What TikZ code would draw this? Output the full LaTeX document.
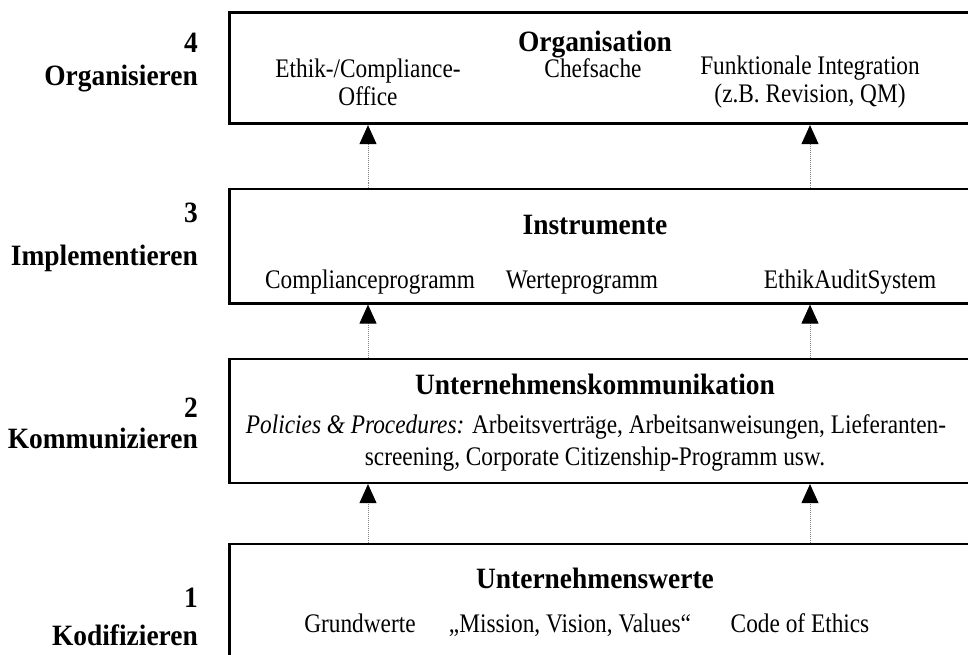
\documentclass[tikz,border=0pt]{standalone}
\usepackage{fontspec}
\setmainfont{Liberation Serif}
\newfontfamily\regf[FakeStretch=0.87]{Liberation Serif}
\newfontfamily\boldf[FakeStretch=0.93]{Liberation Serif}
\usetikzlibrary{arrows.meta}
\begin{document}
\begin{tikzpicture}[x=1pt,y=-1pt,
  box/.style={draw, line width=2.6pt, rectangle, inner sep=0pt, anchor=north west, minimum width=747pt},
  ttl/.style={font=\boldf\fontsize{29.5}{34}\selectfont\bfseries, anchor=base, inner sep=0pt},
  txt/.style={font=\regf\fontsize{26.8}{28}\selectfont, anchor=base, inner sep=0pt},
  txtc/.style={font=\regf\fontsize{26.8}{28}\selectfont, align=center, inner sep=0pt},
  lvl/.style={font=\boldf\fontsize{29.5}{34}\selectfont\bfseries, anchor=base east, inner sep=0pt},
  conn/.style={draw=gray, line width=0.9pt, dash pattern=on 1pt off 1pt,
    -{Triangle[width=17pt,length=19pt,fill=black,color=black]}}
]
\useasboundingbox (0,0) rectangle (968,655);

% boxes
\node[box, minimum height=111.5pt] (b4) at (228,11) {};
\node[box, minimum height=114.5pt] (b3) at (228,187.5) {};
\node[box, minimum height=124pt]   (b2) at (228,357.5) {};
\node[box, minimum height=130pt]   (b1) at (228,542.5) {};

% arrow columns
\coordinate (cl) at (368,0);
\coordinate (cr) at (810,0);
\draw[conn] (cl |- b3.north) -- (cl |- b4.south);
\draw[conn] (cr |- b3.north) -- (cr |- b4.south);
\draw[conn] (cl |- b2.north) -- (cl |- b3.south);
\draw[conn] (cr |- b2.north) -- (cr |- b3.south);
\draw[conn] (cl |- b1.north) -- (cl |- b2.south);
\draw[conn] (cr |- b1.north) -- (cr |- b2.south);

% level labels
\node[lvl] (n4) at (198,53) {4};
\node[lvl] (l4) at (198,86) {Organisieren};
\node[lvl] (n3) at (198,222) {3};
\node[lvl] (l3) at (198,265) {Implementieren};
\node[lvl] (n2) at (198,417) {2};
\node[lvl] (l2) at (198,448) {Kommunizieren};
\node[lvl] (n1) at (198,607) {1};
\node[lvl] (l1) at (198,645) {Kodifizieren};

% box 4
\node[ttl] (t4) at (595,52) {Organisation};
\node[txtc] (e4a) at (368,82) {Ethik-/Compliance-\\Office};
\node[txt] (e4b) at (593,78) {Chefsache};
\node[txtc] (e4c) at (810,82) {Funktionale Integration\\(z.B. Revision, QM)};

% box 3
\node[ttl] (t3) at (595,234) {Instrumente};
\node[txt] (e3a) at (370,288) {Complianceprogramm};
\node[txt] (e3b) at (582,288) {Werteprogramm};
\node[txt] (e3c) at (850,288) {EthikAuditSystem};

% box 2
\node[ttl] (t2) at (595,394) {Unternehmenskommunikation};
\node[txt] (e2a) at (596,433) {\textit{Policies \& Procedures:} Arbeitsverträge, Arbeitsanweisungen, Lieferanten-};
\node[txt] (e2b) at (595,465) {screening, Corporate Citizenship-Programm usw.};

% box 1
\node[ttl] (t1) at (595,588) {Unternehmenswerte};
\node[txt] (e1a) at (360,632) {Grundwerte};
\node[txt] (e1b) at (570,632) {„Mission, Vision, Values“};
\node[txt] (e1c) at (800,632) {Code of Ethics};
\end{tikzpicture}
\end{document}
